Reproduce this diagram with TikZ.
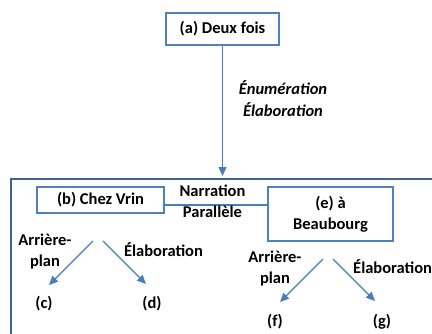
\documentclass[tikz,border=0pt]{standalone}
\usepackage{fontspec}
\setmainfont{Carlito}
\usetikzlibrary{arrows.meta}
\definecolor{boxblue}{HTML}{4F81BD}
\definecolor{framebl}{HTML}{41628F}
\definecolor{arrbl}{HTML}{4A7EBB}
\tikzset{
  box/.style={draw=boxblue,line width=2.8pt,inner sep=0pt,align=center,font=\fontsize{16.5}{21}\selectfont\bfseries},
  lab/.style={inner sep=0pt,align=center,font=\fontsize{16.5}{21}\selectfont\bfseries},
  ilab/.style={inner sep=0pt,align=center,font=\fontsize{16.5}{22}\selectfont\bfseries\itshape},
  conn/.style={draw=arrbl,line width=1.3pt,-{Triangle[length=9pt,width=8pt]}},
  plain/.style={draw=arrbl,line width=1.2pt}
}
\begin{document}
\begin{tikzpicture}[x=1pt,y=-1pt]
\useasboundingbox (0,0) rectangle (432,333);
\fill[white] (0,0) rectangle (432,333);
% frame
\draw[framebl,line width=2.2pt] (11,345) -- (11,179) -- (445,179);
\coordinate (ftop) at (222.5,176);
% boxes
\node[box,minimum width=113pt,minimum height=32pt] (a) at (222.5,29) {(a) Deux fois};
\node[box,minimum width=127pt,minimum height=26pt] (b) at (100.5,200) {(b) Chez Vrin};
\node[box,minimum width=125pt,minimum height=54pt] (e) at (330.5,214) {(e) à\\Beaubourg};
% main arrow
\draw[conn] (a.south) -- (ftop);
\node[ilab] (l1) at (283,99) {Énumération\\Élaboration};
% b-e relation
\draw[plain] ([yshift=-5pt]b.east) -- ([yshift=9pt]e.west);
\node[lab] (l2) at (212.5,201.5) {Narration\\Parallèle};
% under b
\coordinate (b1) at (93,241);
\coordinate (b2) at (103,241);
\coordinate (c1) at (49,285);
\coordinate (d1) at (146,284);
\draw[conn] (b1) -- (c1);
\draw[conn] (b2) -- (d1);
\node[lab] (l3) at (45,252) {Arrière-\\plan};
\node[lab] (l4) at (163.5,250) {Élaboration};
\node[lab] (c) at (44,304) {(c)};
\node[lab] (d) at (152,304) {(d)};
% under e
\coordinate (e1) at (323,259);
\coordinate (e2) at (333,259);
\coordinate (f1) at (280,302);
\coordinate (g1) at (375,301);
\draw[conn] (e1) -- (f1);
\draw[conn] (e2) -- (g1);
\node[lab] (l5) at (275,269) {Arrière-\\plan};
\node[lab,anchor=west] (l6) at (353,267) {Élaboration};
\node[lab] (f) at (275,322) {(f)};
\node[lab] (g) at (382,322) {(g)};
\end{tikzpicture}
\end{document}
